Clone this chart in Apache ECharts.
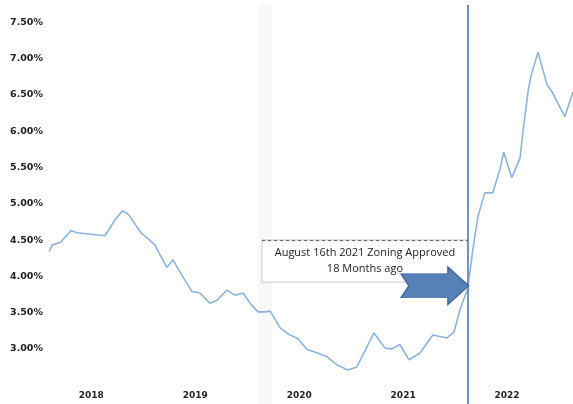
<head>
    <meta charset="utf-8">
    <script src="https://cdn.jsdelivr.net/npm/echarts@6/dist/echarts.min.js"></script>
    <style>
        body { margin: 0; background: #fff; }
    </style>
</head>
<body>
<div id="main" style="width:573px;height:404px"></div>
<script>
    // weekly-ish readings of the rate line
    var dates = [
        '2018-02-05', '2018-02-15', '2018-03-17', '2018-04-22', '2018-05-13', '2018-08-20',
        '2018-09-24', '2018-10-19', '2018-11-05', '2018-11-16', '2018-12-24', '2019-01-18',
        '2019-02-11', '2019-03-25', '2019-04-15', '2019-05-16', '2019-06-21', '2019-07-19',
        '2019-08-23', '2019-09-17', '2019-10-22', '2019-11-19', '2019-12-17', '2020-01-11',
        '2020-02-08', '2020-03-04', '2020-03-22', '2020-04-26', '2020-05-31', '2020-06-28',
        '2020-07-30', '2020-09-07', '2020-10-08', '2020-11-12', '2020-12-20', '2021-01-21',
        '2021-03-22', '2021-04-30', '2021-05-24', '2021-06-21', '2021-07-23', '2021-08-30',
        '2021-10-15', '2021-12-03', '2021-12-28', '2022-01-18', '2022-02-15', '2022-03-04',
        '2022-03-22', '2022-04-15', '2022-05-13', '2022-06-07', '2022-06-21', '2022-07-19',
        '2022-08-17', '2022-08-28', '2022-09-15', '2022-09-25', '2022-10-19', '2022-11-20',
        '2022-12-08', '2023-01-21', '2023-02-19'
    ];
    var rates = [
        4.34, 4.43, 4.47, 4.63, 4.60, 4.56,
        4.78, 4.90, 4.87, 4.82, 4.60, 4.52,
        4.43, 4.12, 4.23, 4.02, 3.79, 3.77,
        3.63, 3.67, 3.81, 3.74, 3.77, 3.63,
        3.51, 3.51, 3.52, 3.29, 3.19, 3.14,
        2.99, 2.94, 2.89, 2.78, 2.71, 2.75,
        3.22, 3.01, 3.00, 3.06, 2.85, 2.94,
        3.19, 3.15, 3.23, 3.54, 3.84, 4.36,
        4.82, 5.15, 5.15, 5.47, 5.71, 5.36,
        5.63, 6.02, 6.57, 6.77, 7.09, 6.64,
        6.54, 6.20, 6.54
    ];
    var yearLabels = [2018, 2019, 2020, 2021, 2022];
    var rateTicks = [3.0, 3.5, 4.0, 4.5, 5.0, 5.5, 6.0, 6.5, 7.0, 7.5];

    var startDate = '2018-01-28';
    var endDate = '2023-02-19';
    var zoningDate = '2022-02-15';
    var noteText = ['August 16th 2021 Zoning Approved', '18 Months ago'];
    var noteFrom = '2020-02-22';
    var noteTop = 4.50;
    var noteBottom = 3.92;
    var arrowAt = ['2021-10-22', 3.87];
    var bandFrom = '2020-02-08';
    var bandTo = '2020-03-28';

    // date string -> fractional year
    function toYear(s) {
        var d = Date.parse(s + 'T00:00:00Z');
        var y = parseInt(s.substr(0, 4), 10);
        var a = Date.UTC(y, 0, 1), b = Date.UTC(y + 1, 0, 1);
        return y + (d - a) / (b - a);
    }

    var points = [];
    for (var i = 0; i < dates.length; i++) {
        points.push([toYear(dates[i]), rates[i]]);
    }

    var myChart = echarts.init(document.getElementById('main'));
    var option = {
        animation: false,
        grid: { left: 47, right: 0, top: 5, bottom: 0 },
        xAxis: {
            type: 'value',
            min: toYear(startDate),
            max: toYear(endDate),
            axisLine: { show: false },
            axisTick: { show: false },
            splitLine: { show: false },
            axisLabel: {
                inside: true,
                margin: 4,
                customValues: yearLabels.map(function (y) { return y + 0.5; }),
                formatter: function (v) { return Math.floor(v); },
                fontFamily: 'DejaVu Sans',
                fontWeight: 'bold',
                fontSize: 9,
                color: '#222'
            }
        },
        yAxis: {
            type: 'value',
            min: 2.24,
            max: 7.74,
            axisLine: { show: false },
            axisTick: { show: false },
            splitLine: { show: false },
            axisLabel: {
                customValues: rateTicks,
                formatter: function (v) { return v.toFixed(2) + '%'; },
                margin: 4,
                fontFamily: 'DejaVu Sans',
                fontWeight: 'bold',
                fontSize: 9.5,
                color: '#222'
            }
        },
        series: [{
            type: 'line',
            data: points,
            showSymbol: false,
            lineStyle: { color: '#8db3d8', width: 1.6 },
            markArea: {
                silent: true,
                data: [
                    [{ xAxis: toYear(bandFrom), itemStyle: { color: 'rgba(235,235,235,0.35)' } },
                     { xAxis: toYear(bandTo) }],
                    [{
                        xAxis: toYear(noteFrom), yAxis: noteTop,
                        itemStyle: { color: '#fff', borderColor: '#c9c9c9', borderWidth: 1 },
                        label: {
                            show: true,
                            position: 'inside',
                            formatter: noteText.join('\n'),
                            fontFamily: 'Open Sans',
                            fontSize: 11,
                            lineHeight: 16,
                            color: '#1a1a1a'
                        }
                    }, { xAxis: toYear(zoningDate), yAxis: noteBottom }]
                ]
            },
            markLine: {
                silent: true,
                symbol: 'none',
                label: { show: false },
                data: [
                    { xAxis: toYear(zoningDate), lineStyle: { color: '#7393c0', width: 2, type: 'solid' } },
                    [{ coord: [toYear(noteFrom), noteTop], lineStyle: { color: '#666', width: 1.2, type: [3, 3] } },
                     { coord: [toYear(zoningDate), noteTop] }]
                ]
            },
            markPoint: {
                silent: true,
                data: [{
                    coord: [toYear(arrowAt[0]), arrowAt[1]],
                    symbol: 'path://M0,7 L47,7 L47,0 L68,19 L47,38 L47,31 L0,31 L8,19 Z',
                    symbolSize: [68, 38],
                    symbolKeepAspect: false,
                    itemStyle: { color: '#5580b8', borderColor: '#3e628f', borderWidth: 1 },
                    label: { show: false }
                }]
            }
        }]
    };
    myChart.setOption(option);
</script>
</body>
